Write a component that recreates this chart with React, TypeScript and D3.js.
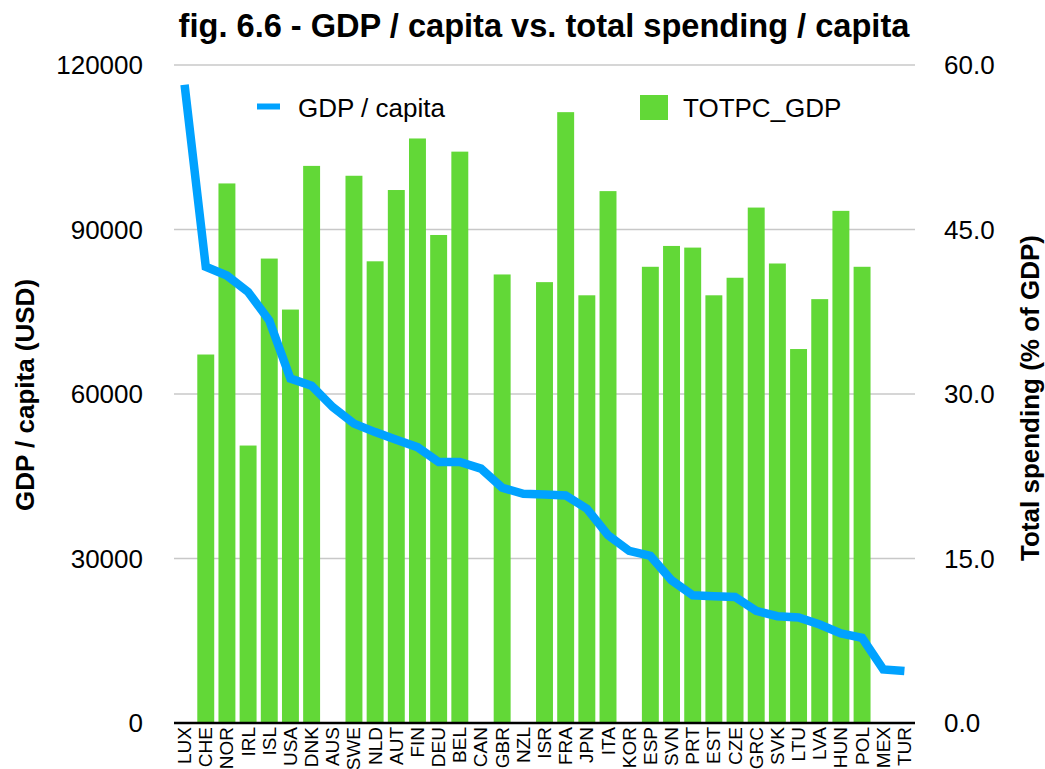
import React from "react";
import * as d3 from "d3";

const countries = ["LUX","CHE","NOR","IRL","ISL","USA","DNK","AUS","SWE","NLD","AUT","FIN","DEU","BEL","CAN","GBR","NZL","ISR","FRA","JPN","ITA","KOR","ESP","SVN","PRT","EST","CZE","GRC","SVK","LTU","LVA","HUN","POL","MEX","TUR"];
const gdpPerCapita = [116400,83200,81600,78600,73400,62800,61500,57600,54600,53050,51650,50300,47600,47600,46400,42900,41800,41650,41500,39100,34240,31380,30470,26040,23300,23130,23000,20450,19480,19250,17970,16330,15530,9780,9470];
const totpcGdp: (number | null)[] = [null,33.6,49.2,25.3,42.35,37.7,50.8,null,49.9,42.1,48.6,53.3,44.5,52.1,null,40.9,null,40.2,55.7,39.0,48.5,null,41.6,43.5,43.35,39.0,40.6,47.0,41.9,34.1,38.65,46.7,41.6,null,null];
const leftTicks = [0,30000,60000,90000,120000];
const rightTicks = [0,15,30,45,60];

const W = 1045, H = 769;
const m = { left: 174, right: 915, top: 65, bottom: 723 };
const font = "'Liberation Sans', Arial, Helvetica, sans-serif";
const blue = "#00A2FF";
const green = "#62D837";

export default function App() {
  const x = d3.scaleBand<string>().domain(countries).range([m.left, m.right]).paddingInner(0.2).paddingOuter(0.1);
  const yL = d3.scaleLinear().domain([0, 120000]).range([m.bottom, m.top]);
  const yR = d3.scaleLinear().domain([0, 60]).range([m.bottom, m.top]);
  const center = (c: string) => (x(c) as number) + x.bandwidth() / 2;
  const line = d3.line<number>().x((_, i) => center(countries[i])).y((d) => yL(d));

  return (
    <svg width={W} height={H} style={{ position: "absolute", left: 0, top: 0, background: "#fff" }} fontFamily={font}>
      <text x={544} y={37} textAnchor="middle" fontSize={32.6} fontWeight="bold" fill="#000">
        fig. 6.6 - GDP / capita vs. total spending / capita
      </text>
      {leftTicks.map((t) => (
        <g key={"g" + t}>
          {t > 0 && <line x1={m.left} x2={m.right} y1={yL(t)} y2={yL(t)} stroke="#C8C8C8" strokeWidth={1.5} />}
          <text x={143} y={yL(t) + 9} textAnchor="end" fontSize={26} fill="#000">{t}</text>
        </g>
      ))}
      {rightTicks.map((t) => (
        <text key={"r" + t} x={944} y={yR(t) + 9} textAnchor="start" fontSize={26} fill="#000">{t.toFixed(1)}</text>
      ))}
      {countries.map((c, i) =>
        totpcGdp[i] == null ? null : (
          <rect key={c} x={x(c)} y={yR(totpcGdp[i] as number)} width={x.bandwidth()} height={m.bottom - yR(totpcGdp[i] as number)} fill={green} />
        )
      )}
      <line x1={m.left} x2={m.right} y1={m.bottom} y2={m.bottom} stroke="#000" strokeWidth={2.5} />
      <path d={line(gdpPerCapita) || ""} fill="none" stroke={blue} strokeWidth={8.5} strokeLinejoin="miter" strokeLinecap="butt" />
      {countries.map((c) => (
        <text key={"l" + c} transform={`translate(${center(c) + 6.5},727) rotate(-90)`} textAnchor="end" fontSize={19} fill="#000">{c}</text>
      ))}
      <line x1={257} x2={280} y1={106.5} y2={106.5} stroke={blue} strokeWidth={6} />
      <text x={298} y={117} fontSize={26} fill="#000">GDP / capita</text>
      <rect x={640} y={95} width={28} height={25} fill={green} />
      <text x={683} y={117} fontSize={26} fill="#000">TOTPC_GDP</text>
      <text transform="translate(34,395) rotate(-90)" textAnchor="middle" fontSize={26} fontWeight="bold" fill="#000">GDP / capita (USD)</text>
      <text transform="translate(1039,398) rotate(-90)" textAnchor="middle" fontSize={26} fontWeight="bold" fill="#000">Total spending (% of GDP)</text>
    </svg>
  );
}
